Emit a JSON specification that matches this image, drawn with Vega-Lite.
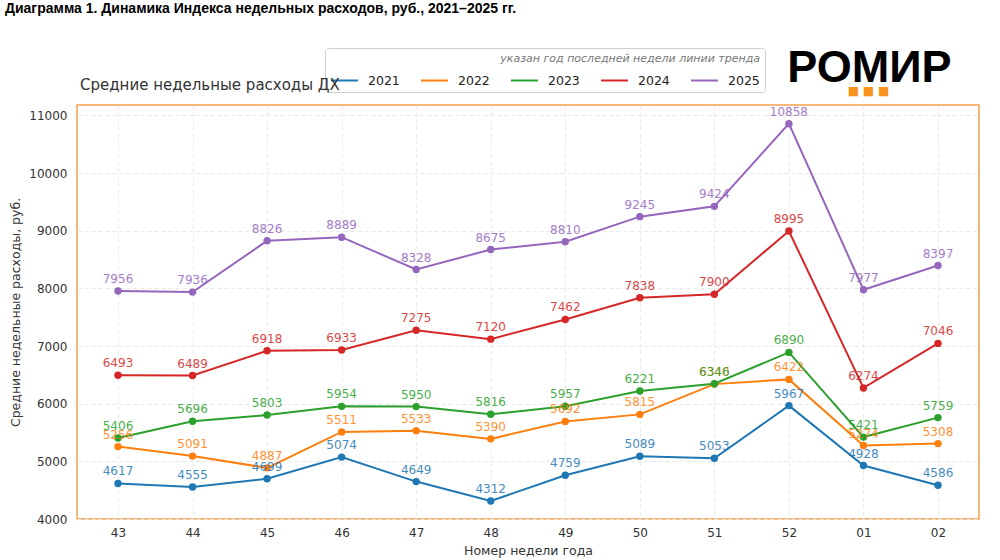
{
  "$schema": "https://vega.github.io/schema/vega-lite/v6.json",
  "autosize": "none",
  "width": 902,
  "height": 414,
  "padding": {"left": 77, "top": 105, "right": 21, "bottom": 41},
  "background": "white",
  "config": {
    "font": "DejaVu Sans",
    "view": {"stroke": "#f5a04e", "strokeWidth": 1.5},
    "axis": {"domain": false, "ticks": false, "grid": true, "gridColor": "#e8e8e8", "gridDash": [4, 3], "labelColor": "#333", "labelFontSize": 12, "titleFontSize": 12.5, "titleFontWeight": "normal", "titleColor": "#333"}
  },
  "title": {
    "text": "Диаграмма 1. Динамика Индекса недельных расходов, руб., 2021–2025 гг.",
    "subtitle": "Средние недельные расходы ДХ",
    "anchor": "start",
    "frame": "group",
    "font": "Liberation Sans",
    "fontSize": 14,
    "fontWeight": "bold",
    "color": "#000",
    "subtitleFont": "DejaVu Sans",
    "subtitleFontSize": 15,
    "subtitleColor": "#333",
    "subtitlePadding": 62,
    "offset": -47,
    "dx": 3,
    "encoding": {"dx": {"value": -72}}
  },
  "data": {
    "values": [
      {"week": "43", "year": "2021", "value": 4617}, {"week": "44", "year": "2021", "value": 4555}, {"week": "45", "year": "2021", "value": 4699}, {"week": "46", "year": "2021", "value": 5074}, {"week": "47", "year": "2021", "value": 4649}, {"week": "48", "year": "2021", "value": 4312}, {"week": "49", "year": "2021", "value": 4759}, {"week": "50", "year": "2021", "value": 5089}, {"week": "51", "year": "2021", "value": 5053}, {"week": "52", "year": "2021", "value": 5967}, {"week": "01", "year": "2021", "value": 4928}, {"week": "02", "year": "2021", "value": 4586},
      {"week": "43", "year": "2022", "value": 5256}, {"week": "44", "year": "2022", "value": 5091}, {"week": "45", "year": "2022", "value": 4887}, {"week": "46", "year": "2022", "value": 5511}, {"week": "47", "year": "2022", "value": 5533}, {"week": "48", "year": "2022", "value": 5390}, {"week": "49", "year": "2022", "value": 5692}, {"week": "50", "year": "2022", "value": 5815}, {"week": "51", "year": "2022", "value": 6340}, {"week": "52", "year": "2022", "value": 6422}, {"week": "01", "year": "2022", "value": 5274}, {"week": "02", "year": "2022", "value": 5308},
      {"week": "43", "year": "2023", "value": 5406}, {"week": "44", "year": "2023", "value": 5696}, {"week": "45", "year": "2023", "value": 5803}, {"week": "46", "year": "2023", "value": 5954}, {"week": "47", "year": "2023", "value": 5950}, {"week": "48", "year": "2023", "value": 5816}, {"week": "49", "year": "2023", "value": 5957}, {"week": "50", "year": "2023", "value": 6221}, {"week": "51", "year": "2023", "value": 6346}, {"week": "52", "year": "2023", "value": 6890}, {"week": "01", "year": "2023", "value": 5421}, {"week": "02", "year": "2023", "value": 5759},
      {"week": "43", "year": "2024", "value": 6493}, {"week": "44", "year": "2024", "value": 6489}, {"week": "45", "year": "2024", "value": 6918}, {"week": "46", "year": "2024", "value": 6933}, {"week": "47", "year": "2024", "value": 7275}, {"week": "48", "year": "2024", "value": 7120}, {"week": "49", "year": "2024", "value": 7462}, {"week": "50", "year": "2024", "value": 7838}, {"week": "51", "year": "2024", "value": 7900}, {"week": "52", "year": "2024", "value": 8995}, {"week": "01", "year": "2024", "value": 6274}, {"week": "02", "year": "2024", "value": 7046},
      {"week": "43", "year": "2025", "value": 7956}, {"week": "44", "year": "2025", "value": 7936}, {"week": "45", "year": "2025", "value": 8826}, {"week": "46", "year": "2025", "value": 8889}, {"week": "47", "year": "2025", "value": 8328}, {"week": "48", "year": "2025", "value": 8675}, {"week": "49", "year": "2025", "value": 8810}, {"week": "50", "year": "2025", "value": 9245}, {"week": "51", "year": "2025", "value": 9424}, {"week": "52", "year": "2025", "value": 10858}, {"week": "01", "year": "2025", "value": 7977}, {"week": "02", "year": "2025", "value": 8397}
    ]
  },
  "encoding": {
    "x": {
      "field": "week", "type": "ordinal",
      "sort": ["43", "44", "45", "46", "47", "48", "49", "50", "51", "52", "01", "02"],
      "scale": {"type": "point", "padding": 0.55},
      "axis": {"title": "Номер недели года", "labelAngle": 0, "labelPadding": 8, "titlePadding": 6}
    },
    "y": {
      "field": "value", "type": "quantitative",
      "scale": {"domain": [4000, 11182], "nice": false, "zero": false},
      "axis": {"title": "Средние недельные расходы, руб.", "values": [4000, 5000, 6000, 7000, 8000, 9000, 10000, 11000], "format": "d", "labelPadding": 10, "titlePadding": 6}
    },
    "color": {
      "field": "year", "type": "nominal",
      "scale": {"domain": ["2021", "2022", "2023", "2024", "2025"], "range": ["#1f77b4", "#ff7f0e", "#2ca02c", "#d62728", "#9467bd"]},
      "legend": {
        "title": "указан год последней недели линии тренда",
        "orient": "none", "legendX": 248, "legendY": -57,
        "direction": "horizontal", "columns": 5,
        "padding": 5, "fillColor": "white", "strokeColor": "#d0d0d0", "cornerRadius": 3,
        "symbolType": "stroke", "symbolSize": 729, "symbolStrokeWidth": 2,
        "labelFontSize": 12.5, "labelOffset": 9, "columnPadding": 17, "labelColor": "#222",
        "titleFontStyle": "italic", "titleFontWeight": "normal", "titleColor": "#777", "titleFontSize": 11,
        "titleAnchor": "end", "titlePadding": 2, "titleLimit": 600
      }
    }
  },
  "layer": [
    {"mark": {"type": "line", "strokeWidth": 2}},
    {"mark": {"type": "point", "filled": true, "size": 55, "opacity": 1}},
    {"mark": {"type": "text", "baseline": "bottom", "dy": -5, "fontSize": 12, "opacity": 0.85}, "encoding": {"text": {"field": "value", "type": "quantitative", "format": "d"}}},
    {"transform": [{"filter": "datum.week === '01' && datum.year === '2025'"}], "mark": {"type": "text", "font": "Liberation Sans", "fontWeight": "bold", "fontSize": 45, "baseline": "middle", "dx": 6}, "encoding": {"x": {"datum": "01"}, "y": {"datum": 11820}, "text": {"value": "РОМИР"}, "color": {"value": "#000"}}},
    {"transform": [{"filter": "datum.week === '01' && datum.year === '2025'"}], "mark": {"type": "text", "fontSize": 12, "baseline": "middle", "dx": 5}, "encoding": {"x": {"datum": "01"}, "y": {"datum": 11420}, "text": {"value": "■ ■ ■"}, "color": {"value": "#f7931e"}}}
  ]
}
